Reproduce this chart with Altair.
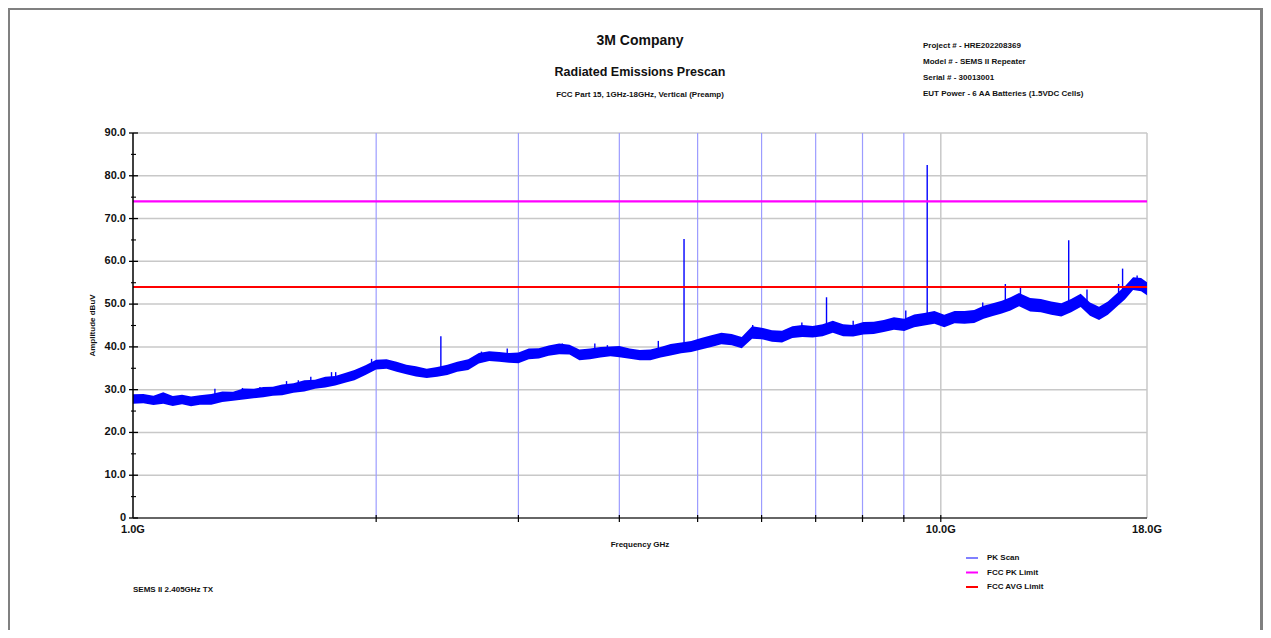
import altair as alt
import pandas as pd

# ---------------- data ----------------
scan_freq_ghz = [1.00, 1.03, 1.06, 1.09, 1.12, 1.15, 1.18, 1.21, 1.25, 1.29,
                 1.33, 1.37, 1.41, 1.45, 1.49, 1.53, 1.58, 1.63, 1.68, 1.73,
                 1.78, 1.83, 1.88, 1.94, 2.00, 2.06, 2.12, 2.18, 2.24, 2.31,
                 2.38, 2.45, 2.52, 2.60, 2.68, 2.76, 2.84, 2.92, 3.00, 3.09,
                 3.18, 3.27, 3.37, 3.47, 3.57, 3.68, 3.79, 3.90, 4.00, 4.12,
                 4.24, 4.37, 4.50, 4.63, 4.77, 4.91, 5.05, 5.20, 5.35, 5.51,
                 5.67, 5.84, 6.00, 6.18, 6.36, 6.55, 6.74, 6.94, 7.14, 7.35,
                 7.57, 7.79, 8.02, 8.26, 8.50, 8.75, 9.01, 9.27, 9.54, 9.82,
                 10.1, 10.4, 10.7, 11.0, 11.3, 11.6, 11.9, 12.2, 12.5, 12.9,
                 13.3, 13.7, 14.1, 14.5, 14.9, 15.3, 15.7, 16.1, 16.5, 16.9,
                 17.3, 17.7, 18.0]
scan_low_dbuv = [26.7, 26.8, 26.4, 26.7, 26.2, 26.6, 26.1, 26.5, 26.5, 27.1,
                 27.4, 27.7, 28.0, 28.2, 28.6, 28.7, 29.3, 29.6, 30.2, 30.5,
                 31.0, 31.6, 32.2, 33.4, 34.7, 34.9, 34.2, 33.6, 33.1, 32.7,
                 33.0, 33.4, 34.2, 34.6, 36.1, 36.7, 36.5, 36.3, 36.2, 37.1,
                 37.3, 37.9, 38.3, 38.2, 36.9, 37.1, 37.5, 37.8, 37.6, 37.2,
                 36.9, 36.9, 37.5, 38.0, 38.5, 38.8, 39.4, 40.0, 40.6, 40.4,
                 39.7, 41.9, 41.8, 41.2, 41.0, 42.1, 42.3, 42.2, 42.5, 43.3,
                 42.5, 42.4, 42.9, 43.0, 43.5, 44.0, 43.7, 44.6, 45.0, 45.4,
                 44.6, 45.5, 45.4, 45.6, 46.6, 47.2, 47.8, 48.5, 49.5, 48.3,
                 48.1, 47.5, 47.1, 48.1, 49.3, 47.3, 46.3, 47.5, 49.3, 51.1,
                 53.3, 53.0, 52.1]
scan_high_dbuv = [28.9, 29.0, 28.6, 29.4, 28.5, 28.8, 28.4, 28.7, 29.0, 29.6,
                  29.5, 30.3, 30.2, 30.6, 30.7, 31.2, 31.5, 32.2, 32.3, 33.0,
                  33.2, 33.9, 34.6, 35.7, 37.0, 37.1, 36.5, 35.8, 35.5, 34.9,
                  35.3, 35.8, 36.5, 37.1, 38.6, 39.0, 38.8, 38.6, 38.7, 39.6,
                  39.7, 40.3, 40.8, 40.5, 39.4, 39.6, 40.0, 40.1, 40.2, 39.6,
                  39.3, 39.4, 40.0, 40.7, 41.0, 41.4, 42.1, 42.7, 43.3, 43.0,
                  42.3, 44.8, 44.5, 43.9, 43.8, 44.8, 45.1, 44.9, 45.3, 46.1,
                  45.3, 45.1, 45.8, 45.9, 46.3, 46.9, 46.6, 47.6, 47.9, 48.4,
                  47.5, 48.4, 48.4, 48.6, 49.6, 50.2, 50.8, 51.6, 52.6, 51.4,
                  51.2, 50.6, 50.2, 51.2, 52.4, 50.4, 49.4, 50.6, 52.4, 54.2,
                  56.3, 56.1, 55.1]

spike_freq_ghz = [1.263, 1.366, 1.436, 1.549, 1.602, 1.660, 1.761, 1.782, 1.899, 1.974,
                  2.405, 2.70, 2.906, 3.40, 3.73, 3.866, 4.47, 4.81, 5.85, 6.73,
                  7.22, 7.79, 9.05, 9.62, 11.27, 12.02, 12.55, 14.40, 15.17, 16.6,
                  16.79, 17.5]
spike_base_dbuv = [28.5, 29.0, 29.5, 30.2, 30.6, 31.0, 31.8, 32.0, 33.5, 35.0,
                   34.0, 37.2, 37.5, 39.0, 38.5, 38.8, 38.5, 39.7, 43.0, 43.5,
                   44.0, 43.6, 45.2, 46.3, 47.8, 49.4, 50.8, 49.3, 49.0, 50.5,
                   51.8, 55.0]
spike_top_dbuv = [30.2, 30.4, 30.6, 32.0, 32.2, 33.0, 34.1, 34.1, 34.7, 37.2,
                  42.5, 38.9, 39.6, 40.8, 40.8, 40.4, 41.4, 65.2, 45.1, 45.7,
                  51.6, 46.1, 48.5, 82.5, 50.4, 54.7, 53.8, 64.9, 53.4, 54.7,
                  58.3, 56.7]

pk_limit_dbuv = 74.0
avg_limit_dbuv = 54.0

y_major = [0, 10, 20, 30, 40, 50, 60, 70, 80, 90]
y_major_labels = ["0", "10.0", "20.0", "30.0", "40.0", "50.0", "60.0", "70.0", "80.0", "90.0"]
y_minor = [5, 15, 25, 35, 45, 55, 65, 75, 85]
x_grid_blue = [2, 3, 4, 5, 6, 7, 8, 9]
x_grid_gray = [10, 18]
x_ticks = [2, 3, 4, 5, 6, 7, 8, 9, 10]
x_label_vals = [1, 10, 18]
x_label_text = ["1.0G", "10.0G", "18.0G"]

legend_labels = ["PK Scan", "FCC PK Limit", "FCC AVG Limit"]
legend_colors = ["#8080ff", "#ff00ff", "#ff0000"]

title_main = "3M Company"
title_sub = "Radiated Emissions Prescan"
title_test = "FCC Part 15, 1GHz-18GHz, Vertical (Preamp)"
info_lines = ["Project # - HRE202208369", "Model # - SEMS II Repeater",
              "Serial # - 30013001", "EUT Power - 6 AA Batteries (1.5VDC Cells)"]
note_text = "SEMS II 2.405GHz TX"
x_title = "Frequency GHz"
y_title = "Amplitude dBuV"

# ---------------- chart ----------------
W, H = 1014, 385
PAD_L, PAD_T, PAD_R, PAD_B = 125, 125, 116, 112
FONT = "Liberation Sans"
xs = alt.Scale(type="log", domain=[1, 18], nice=False)
ys = alt.Scale(domain=[0, 90], nice=False, zero=False)
one = pd.DataFrame({"k": [0]})

scan = pd.DataFrame({"f": scan_freq_ghz, "lo": scan_low_dbuv, "hi": scan_high_dbuv})
spikes = pd.DataFrame({"f": spike_freq_ghz, "b": spike_base_dbuv, "t": spike_top_dbuv})

layers = []

# horizontal grid
layers.append(alt.Chart(pd.DataFrame({"v": y_major[1:]})).mark_rule(color="#c8c8c8", strokeWidth=1.5).encode(
    y=alt.Y("v:Q", scale=ys, axis=None), x=alt.value(0), x2=alt.value(W)))
# vertical grid
layers.append(alt.Chart(pd.DataFrame({"f": x_grid_blue})).mark_rule(color="#9c9cff", strokeWidth=1.2).encode(
    x=alt.X("f:Q", scale=xs, axis=None), y=alt.value(0), y2=alt.value(H)))
layers.append(alt.Chart(pd.DataFrame({"f": x_grid_gray})).mark_rule(color="#c8c8c8", strokeWidth=1.5).encode(
    x=alt.X("f:Q", scale=xs, axis=None), y=alt.value(0), y2=alt.value(H)))

# PK scan band and spikes
layers.append(alt.Chart(scan).mark_area(color="#0000ff", opacity=1, interpolate="linear").encode(
    x=alt.X("f:Q", scale=xs, axis=None), y=alt.Y("lo:Q", scale=ys, axis=None), y2="hi:Q"))
layers.append(alt.Chart(spikes).mark_rule(color="#0000ff", strokeWidth=1.4).encode(
    x=alt.X("f:Q", scale=xs, axis=None), y=alt.Y("b:Q", scale=ys, axis=None), y2="t:Q"))

# limit lines
layers.append(alt.Chart(pd.DataFrame({"v": [pk_limit_dbuv]})).mark_rule(color="#ff00ff", strokeWidth=2.2).encode(
    y=alt.Y("v:Q", scale=ys, axis=None), x=alt.value(0), x2=alt.value(W)))
layers.append(alt.Chart(pd.DataFrame({"v": [avg_limit_dbuv]})).mark_rule(color="#ff0000", strokeWidth=2.2).encode(
    y=alt.Y("v:Q", scale=ys, axis=None), x=alt.value(0), x2=alt.value(W)))

# axis lines
layers.append(alt.Chart(one).mark_rule(color="#000000", strokeWidth=1.5).encode(
    x=alt.value(0), y=alt.value(0), y2=alt.value(H)))
layers.append(alt.Chart(one).mark_rule(color="#333333", strokeWidth=1.5).encode(
    x=alt.value(0), x2=alt.value(W), y=alt.value(H)))

# y ticks
layers.append(alt.Chart(pd.DataFrame({"v": y_major})).mark_rule(color="#000000", strokeWidth=1.3).encode(
    y=alt.Y("v:Q", scale=ys, axis=None), x=alt.value(-4), x2=alt.value(5)))
layers.append(alt.Chart(pd.DataFrame({"v": y_minor})).mark_rule(color="#000000", strokeWidth=1.1).encode(
    y=alt.Y("v:Q", scale=ys, axis=None), x=alt.value(-2), x2=alt.value(3)))
# x ticks
layers.append(alt.Chart(pd.DataFrame({"f": x_ticks})).mark_rule(color="#000000", strokeWidth=1.2).encode(
    x=alt.X("f:Q", scale=xs, axis=None), y=alt.value(H - 3), y2=alt.value(H + 4)))

# tick labels
layers.append(alt.Chart(pd.DataFrame({"v": y_major, "t": y_major_labels})).mark_text(
    font=FONT, fontSize=11, fontWeight="bold", align="right", baseline="middle", color="#111111").encode(
    y=alt.Y("v:Q", scale=ys, axis=None), x=alt.value(-7), text="t:N"))
layers.append(alt.Chart(pd.DataFrame({"f": x_label_vals, "t": x_label_text})).mark_text(
    font=FONT, fontSize=11, fontWeight="bold", align="center", baseline="middle", color="#111111").encode(
    x=alt.X("f:Q", scale=xs, axis=None), y=alt.value(H + 12), text="t:N"))


def txt(s, x, y, size, align="left", angle=0):
    kw = dict(font=FONT, fontSize=size, fontWeight="bold", align=align, baseline="middle", color="#111111")
    if angle:
        kw["angle"] = angle
    return alt.Chart(one).mark_text(**kw).encode(x=alt.value(x), y=alt.value(y), text=alt.value(s))


layers.append(txt(title_main, 507, -92, 14, "center"))
layers.append(txt(title_sub, 507, -61, 12.5, "center"))
layers.append(txt(title_test, 507, -38, 8, "center"))
for i, line in enumerate(info_lines):
    layers.append(txt(line, 790, -87 + 16 * i, 8, "left"))
layers.append(txt(x_title, 507, H + 27, 8, "center"))
layers.append(txt(y_title, -40, H / 2, 8, "center", angle=270))
layers.append(txt(note_text, 0, 457, 8, "left"))

# legend
for i, (lab, col) in enumerate(zip(legend_labels, legend_colors)):
    yy = 425 + 14.5 * i
    layers.append(alt.Chart(one).mark_rule(color=col, strokeWidth=2).encode(
        x=alt.value(833), x2=alt.value(845), y=alt.value(yy)))
    layers.append(txt(lab, 854, yy, 8, "left"))

# page frame
frame_color = "#808080"
right_edge = W + PAD_R
layers.append(alt.Chart(one).mark_rect(color=frame_color).encode(
    x=alt.value(-127), x2=alt.value(right_edge + 2), y=alt.value(-128), y2=alt.value(-123)))
layers.append(alt.Chart(one).mark_rect(color=frame_color).encode(
    x=alt.value(-127), x2=alt.value(-123), y=alt.value(-128), y2=alt.value(500)))
layers.append(alt.Chart(one).mark_rect(color=frame_color).encode(
    x=alt.value(right_edge - 3), x2=alt.value(right_edge + 2), y=alt.value(-128), y2=alt.value(500)))

chart = alt.layer(*layers).properties(
    width=W, height=H,
    autosize=alt.AutoSizeParams(type="none"),
    padding={"left": PAD_L, "top": PAD_T, "right": PAD_R, "bottom": PAD_B},
    background="white",
).configure_view(stroke=None)

chart.save("out.html", embed_options={"renderer": "svg", "actions": False})
